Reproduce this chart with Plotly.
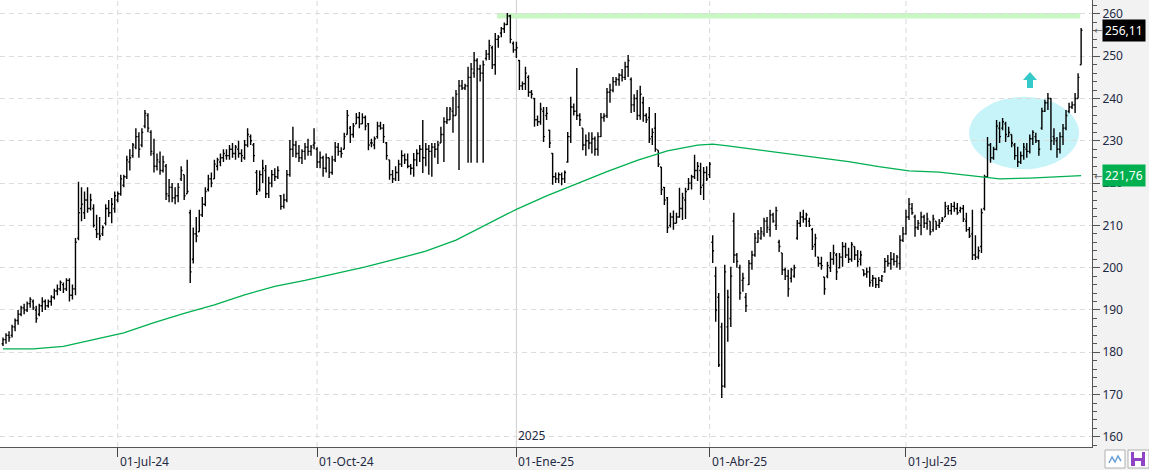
import pandas as pd
import plotly.graph_objects as go

# ---------------- data ----------------
start_date = "2024-05-08"

opens = [
    182, 183, 184, 184, 186, 187.5, 189, 190.5, 190, 191.5,
    192, 190, 189, 191, 192, 191, 192, 193, 194.5, 195,
    196, 195, 197, 193.5, 195, 207, 214, 213, 216, 214,
    214, 209, 208, 208, 210.5, 214, 213, 214, 216, 217.5,
    219.5, 221.5, 225, 226.5, 228.5, 231, 229, 233.5, 236, 232,
    227, 224, 225, 223, 224, 217, 219, 216.5, 217, 221,
    222, 217.5, 213, 202, 208, 208.5, 212.5, 215, 218.5, 221,
    221, 224, 225, 226, 226.5, 226.5, 228, 227, 228, 227,
    226, 229, 231, 229, 222.5, 218.5, 222, 223, 217.5, 220,
    222, 221.5, 217, 214.5, 216, 222, 228, 229, 227, 226,
    227.5, 228.5, 227.5, 229, 228, 225, 226, 223.5, 226, 222.5,
    225.5, 228.5, 227.5, 228, 231.5, 233, 231.5, 234, 235.5, 234,
    235.5, 234, 229.5, 229, 231, 233.5, 233, 229.5, 225.5, 222,
    221, 222.5, 224.5, 226.5, 225.5, 224, 223.5, 225.5, 227, 228,
    226, 228, 227.5, 228.5, 228, 229.5, 231.5, 234.5, 235, 237,
    236, 238, 243, 242.5, 243, 245, 246, 249, 247, 246,
    249.5, 250.5, 252, 248, 254, 255.5, 256.5, 257.5, 259.5, 253,
    251.5, 249, 243, 243.5, 245, 241.5, 240, 235, 234.5, 237,
    236, 232.5, 227, 221.5, 221, 222, 221, 225, 231, 238,
    237, 236, 233, 229, 230, 229.5, 230.5, 228, 231, 235.5,
    236, 241.5, 242, 244, 244.5, 245.5, 245, 247.5, 244.5, 238.5,
    240, 236, 239, 236, 235.5, 231, 233, 227.8, 223.8, 219,
    216.5, 210, 212, 210.5, 212, 214, 216, 218.5, 220, 221.5,
    223, 223, 219.5, 222.5, 222, 206, 198, 193, 186, 172,
    186, 188, 211, 203, 200, 197, 193, 196, 201, 203,
    206, 207, 208, 211, 209, 212.5, 210, 206, 203.5, 199.5,
    198, 197.5, 198, 207, 210.5, 212, 211.5, 211, 209, 205.5,
    202.5, 201, 197.8, 198, 200, 202, 203, 200, 202.5, 205,
    203, 202, 205, 203, 202, 199.5, 198.5, 199, 197, 197.5,
    196, 197, 199, 201.5, 201, 202, 201.5, 201, 206.5, 208,
    212, 214, 212, 209.5, 210, 212, 210.5, 211, 209, 211,
    210, 211, 212, 214, 213.5, 214.5, 214, 213.5, 214, 211,
    209, 208, 203, 202.5, 205, 214, 221.5, 229, 226, 228,
    233, 233, 234, 231, 231.5, 229, 226.5, 225, 226.5, 228,
    227.5, 230.5, 231, 230, 233, 237, 239, 240, 231, 230,
    228, 231, 233, 237, 238, 238.5, 240, 248,
]
highs = [
    183.5, 184.5, 185, 186.5, 188, 190, 191, 191.5, 192, 193,
    192.5, 191, 191.5, 193, 192.5, 192.5, 193.5, 195, 196, 197,
    196.5, 197.5, 197.5, 196, 207, 220.3, 219, 218, 219, 217.5,
    215, 212.5, 212, 210, 215, 216, 216.5, 218, 218, 222,
    222, 226.5, 228, 229.5, 233, 232, 233, 237.3, 236.5, 232.5,
    230.5, 227, 227.5, 226.5, 224.5, 221, 220, 219, 220, 224,
    222, 225.5, 213.7, 209.5, 212, 213.7, 216.7, 219, 222, 222.5,
    225.5, 226, 227, 228, 228, 229, 229.5, 229, 230, 228,
    230.2, 233, 231.5, 229.5, 223.1, 223, 225.5, 224.3, 221.5, 223.1,
    223.5, 224, 217.2, 217.5, 223.1, 230.2, 233.3, 230, 229, 228,
    229.5, 230.5, 229, 233, 228.5, 227.5, 226.5, 227, 226, 226.5,
    229.7, 229.5, 228.5, 231.9, 237.3, 233.5, 234.2, 236.6, 236.8, 236.5,
    236, 234.2, 230.5, 231, 234.5, 234.5, 234, 229.7, 225.5, 223.1,
    224, 225.5, 227.8, 227, 227, 224.5, 227.1, 228, 229, 234.9,
    229.5, 229, 229.5, 229.5, 230, 233.3, 235.6, 238, 238, 240.4,
    242, 244.4, 244.4, 243.5, 247.5, 248.4, 251, 249.5, 248, 249,
    251.5, 253.9, 252.5, 255.5, 255, 256.9, 258, 260.2, 259.8, 253.5,
    253.4, 249.1, 244, 247.5, 245.5, 242, 240.1, 236, 239, 238,
    238, 232.6, 227.1, 222.5, 222.5, 222.5, 223, 232.1, 240.4, 238.8,
    247.2, 236.5, 233, 231.5, 232, 232, 231, 232, 236.6, 236.5,
    242.5, 243.5, 245.1, 245.1, 246, 247, 248.7, 250.3, 245, 241,
    242, 243, 240.4, 236.5, 238, 233, 236.6, 227.8, 223.8, 219.1,
    216.7, 213, 213.5, 213, 218.9, 217.7, 218.9, 221.2, 222, 226.7,
    225, 224.8, 223.8, 224, 225, 207.7, 200.2, 194, 187, 200.7,
    194.8, 200.2, 213, 203.5, 200.7, 198.8, 194, 201.8, 204, 208.2,
    208.9, 209.6, 211.8, 212, 213.7, 213, 214.4, 206.6, 203.5, 200,
    199.5, 200, 200.7, 211.3, 213.2, 213.7, 213, 211.8, 209.4, 208,
    202.6, 202.6, 197.8, 201.4, 203.7, 205.4, 203.5, 203.5, 206.1, 205.9,
    204.7, 206.1, 205, 204.2, 204, 199.5, 200, 200.2, 198.3, 197.6,
    197.8, 198.3, 202.3, 203, 203.7, 203.5, 203, 207.7, 209.6, 213.7,
    216.5, 215.3, 212.5, 211.3, 213.2, 212.5, 213, 211, 212.5, 211,
    211.5, 212, 215.6, 214.8, 215.3, 215.6, 215.3, 214.4, 214.8, 213,
    209.6, 213.7, 207.7, 205, 214, 222, 230.9, 229.5, 228.6, 234.9,
    234.5, 235.4, 234.5, 233.3, 231.5, 229.5, 228.6, 227.5, 229.5, 229.5,
    231.5, 232.5, 231.9, 230.2, 237.8, 239.7, 241.3, 240.1, 233, 230.9,
    232, 234, 237.3, 239, 239.3, 241.3, 246, 256.7,
]
lows = [
    181.5, 182, 182.5, 183.5, 185, 186.5, 188.5, 189, 189.5, 190.5,
    190, 187, 188.5, 189.5, 190, 190.5, 191, 192.5, 193.5, 194.5,
    194, 194.5, 192, 192.5, 193.5, 206.5, 211, 211.5, 213, 213.5,
    209.5, 207, 206.5, 207.5, 210, 212, 210.5, 213, 215.5, 217,
    219, 221, 223, 226, 228, 226, 228.5, 233, 232, 226.5,
    222.5, 223, 222, 222.5, 216, 215.5, 215.5, 215, 215.5, 220.5,
    216, 217.5, 196.4, 201, 206, 208.5, 212, 214.5, 218, 219,
    221, 223, 224, 225, 225.5, 225.5, 226, 225.5, 226, 225,
    225.5, 228.5, 229, 225, 217.2, 218, 220, 216.5, 216.5, 219,
    220.5, 221, 213.7, 214, 215.5, 221.5, 226.2, 226, 225, 224.5,
    225.5, 226.5, 226.5, 228, 223.6, 223.5, 221.5, 222.5, 221.2, 222,
    225, 226.5, 226, 228, 231.5, 229.5, 230.7, 234, 233, 234,
    232.5, 227.8, 228.5, 228, 230.5, 232.6, 229.5, 225.5, 220.8, 220,
    220.5, 220.5, 223.8, 224.5, 223.5, 222, 221.5, 224, 225, 222.4,
    224, 222, 221.5, 226, 224.5, 229.5, 225, 234, 234.9, 231.9,
    236, 223.1, 242, 242, 224.8, 224.8, 244.9, 224.8, 244, 224.8,
    249, 249.1, 247, 245.6, 252, 254.5, 255.5, 257.4, 253.1, 250.8,
    249.6, 242, 242, 242, 240.4, 240, 233.3, 233.5, 233.8, 229.7,
    234.9, 228.3, 219.6, 220, 220, 219.5, 220, 224.8, 229.5, 236,
    234.9, 233.5, 227.8, 226.5, 228, 227, 226.5, 226.5, 230.9, 234.5,
    235.4, 239, 241.5, 243, 243, 244, 244.4, 245.1, 236.6, 236.8,
    234.9, 235, 234.5, 234.2, 229.5, 229, 227.4, 223.8, 217.2, 214.8,
    208.2, 209.5, 209, 210.5, 211.8, 211.3, 211.5, 218.4, 218.5, 221,
    220.5, 217.2, 216, 220.5, 221.2, 201.1, 187.2, 176.5, 169.2, 171.6,
    182.5, 186, 201.1, 200, 192.4, 194.3, 189.5, 195.9, 199.5, 202.6,
    205.9, 206.6, 207.3, 208.2, 207.3, 210.6, 208.9, 203.7, 198.3, 197.1,
    193.1, 196.5, 197.6, 206.6, 209.6, 210.6, 209.6, 209.6, 204.2, 202.6,
    200.2, 199.5, 193.6, 197.5, 199, 200.7, 197.1, 199.8, 200.2, 202.3,
    201.1, 201.4, 201.8, 200.2, 200.5, 198, 197.6, 195.5, 195.5, 195.2,
    195.2, 196.6, 198.8, 200.2, 199.5, 200.5, 200, 199.5, 206.1, 207.8,
    211.3, 212.5, 207.3, 208.9, 207.7, 209.4, 209, 207.7, 208.5, 208.9,
    209.4, 210.8, 212, 212.5, 212.5, 213.2, 212.5, 213, 210.8, 208.5,
    207, 201.8, 201.8, 202, 203.5, 213.5, 221.2, 224.8, 225.5, 227.8,
    229.5, 232.5, 229.7, 230.9, 228.5, 225.5, 223.8, 224.5, 225.5, 226,
    227, 229, 229.5, 226.5, 232.6, 236.8, 237.3, 227.8, 229, 226,
    227, 229, 232.5, 236.5, 237.5, 236.6, 240, 248,
]
closes = [
    183, 184, 183.5, 186, 187.5, 189, 190.5, 190, 191.5, 192.5,
    190.5, 188, 191, 192, 191, 192, 193, 194.5, 195, 196.5,
    195, 197, 193.5, 195, 206, 213, 215, 216, 214, 216,
    210, 208, 207.5, 209.5, 214, 213, 215, 217, 217.5, 221,
    221.5, 225.5, 226, 229, 231, 228, 232, 236.5, 233, 227.5,
    224, 225.5, 223, 225, 217.5, 219, 216.5, 217, 219, 223,
    217, 218, 199, 208, 207.5, 212.5, 215, 218, 221, 220,
    224.5, 225.5, 226, 227, 226.5, 228, 227, 228.5, 227, 226.5,
    229, 231.5, 230, 226.5, 218, 222, 223.5, 217.5, 220, 222,
    221.5, 223, 214.5, 216, 222, 228, 229, 227, 226, 227.5,
    228.5, 227.5, 228.5, 229.5, 225, 226, 223.5, 226, 222.5, 225.5,
    228.5, 227.5, 227, 231, 236, 231.5, 233.5, 235.5, 234, 235.5,
    233.5, 229, 229.5, 230.5, 233.5, 233, 231, 226.5, 222, 221,
    222.5, 224.5, 226.5, 225.5, 224, 223.5, 225.5, 227, 228, 226,
    228, 227.5, 228.5, 228, 229, 231.5, 234.5, 235, 237.5, 236,
    241, 243, 242.5, 243, 245, 247, 249, 247, 246, 248,
    250.5, 252.5, 248, 254, 254.5, 256.5, 257.5, 259.5, 254, 251.5,
    252, 243, 243.5, 246, 241.5, 241, 235, 234.5, 237.5, 231,
    236.5, 229.5, 221.5, 221, 222, 221, 222.5, 231, 238, 237,
    236, 235, 229, 230, 229.5, 230.5, 228, 231, 235.5, 235.8,
    241.5, 242, 244, 244.5, 245.5, 245, 247.5, 249, 238.5, 240,
    236, 241, 236, 235, 230.5, 232, 228, 224.5, 218.5, 216,
    209.5, 212, 210.5, 212, 214, 216.5, 218, 220, 221.5, 223,
    224, 219, 222.5, 221, 224.5, 204, 190, 177, 172, 199,
    193, 198, 203, 201.5, 194, 197.5, 191, 201, 203, 207,
    208, 208.5, 211, 209.5, 212.5, 211, 213.5, 205, 199.5, 198,
    195, 199.5, 200, 210.5, 212, 211.5, 212.5, 210, 205, 207,
    201, 200.5, 195, 200.5, 202, 203.5, 199, 202.5, 205, 203,
    202, 205.5, 203, 201.5, 203, 198.5, 199, 196.5, 197.5, 196,
    197, 198, 201.5, 201, 202, 201.5, 202.5, 206.5, 208, 212,
    215, 213, 209.5, 210.5, 212, 210.5, 211.5, 208.5, 211.5, 210,
    210.5, 211.5, 214.5, 213.5, 214.5, 214, 213, 214, 211.5, 209,
    207.5, 203, 202.5, 204, 213, 221.5, 229, 226, 228, 233.5,
    231, 234.5, 231.5, 232, 229.5, 226.5, 225, 226.5, 228.5, 227.5,
    230.5, 232, 230, 228, 237, 239, 240, 230, 230.5, 228,
    231, 233, 236, 238, 238.5, 240, 245, 256.11,
]

# 200-session moving average, read at sampled sessions
ma_idx = [0, 10, 20, 30, 40, 50, 60, 70, 80, 90, 100, 110, 120, 130, 140, 150,
          160, 170, 180, 190, 200, 210, 220, 230, 235, 240, 250, 260, 270, 280,
          290, 300, 310, 320, 330, 340, 350, 357]
ma_vals = [180.8, 180.8, 181.4, 183.0, 184.6, 187.0, 189.2, 191.2, 193.6, 195.6,
           197.0, 198.6, 200.2, 202.0, 203.9, 206.5, 210.2, 213.8, 217.0, 219.9,
           222.7, 225.4, 227.6, 229.0, 229.2, 228.8, 227.9, 227.0, 226.1, 225.1,
           223.9, 222.9, 222.6, 221.8, 221.0, 221.2, 221.6, 221.76]

tick_dates = ["2024-07-01", "2024-10-01", "2025-01-01", "2025-04-01", "2025-07-01"]
tick_labels = ["01-Jul-24", "01-Oct-24", "01-Ene-25", "01-Abr-25", "01-Jul-25"]
year_label = "2025"
last_label = "256,11"
ma_label = "221,76"

# ---------------- figure ----------------
n = len(closes)
cats = pd.bdate_range(start_date, periods=n).strftime("%Y-%m-%d").tolist()
tick_pos = [cats.index(d) for d in tick_dates]

W, H = 1149, 470
ML, MR, MT, MB = 0, 57, 0, 23
PW, PH = W - ML - MR, H - MT - MB
YMIN, YMAX = 157.6, 263.3
XMIN, XMAX = -0.99, 360.6

fig = go.Figure()
fig.add_trace(go.Ohlc(
    x=cats, open=opens, high=highs, low=lows, close=closes,
    increasing=dict(line=dict(color="#000000", width=1.4)),
    decreasing=dict(line=dict(color="#000000", width=1.4)),
    tickwidth=0.45, showlegend=False, hoverinfo="skip",
))
fig.add_trace(go.Scatter(
    x=[cats[i] for i in ma_idx], y=ma_vals, mode="lines",
    line=dict(color="#00b050", width=1.3), showlegend=False, hoverinfo="skip",
))

shapes = []
# vertical grid lines
for p, d in zip(tick_pos, tick_dates):
    solid = d.startswith("2025-01")
    shapes.append(dict(type="line", xref="x", yref="paper", x0=p, x1=p, y0=0, y1=1,
                       line=dict(color="#cfcfcf" if solid else "#d9d9d9", width=1,
                                 dash="solid" if solid else "5px,4px"),
                       layer="below"))
# resistance band
shapes.append(dict(type="rect", xref="x", yref="y", x0=163.6, x1=356.7, y0=258.9, y1=260.2,
                   fillcolor="#c9f7c4", line=dict(width=0), layer="below"))
# highlight ellipse
shapes.append(dict(type="circle", xref="x", yref="y", x0=319.9, x1=356.3, y0=223.3, y1=240.4,
                   fillcolor="#c7f4f9", line=dict(width=0), layer="below"))


def px(xp):
    return (xp - ML) / PW


def py(yp):
    return 1 - (yp - MT) / PH


# up arrow
arrow = [(1030, 72), (1037, 80), (1033, 80), (1033, 88), (1027, 88), (1027, 80), (1023, 80)]
path = "M " + " L ".join(f"{px(a):.5f},{py(b):.5f}" for a, b in arrow) + " Z"
shapes.append(dict(type="path", xref="paper", yref="paper", path=path,
                   fillcolor="#36c9c9", line=dict(width=0)))
# bottom-right toolbar icons
shapes.append(dict(type="rect", xref="paper", yref="paper", x0=px(1105), x1=px(1125),
                   y0=py(468), y1=py(450), fillcolor="#ffffff", line=dict(color="#b0b0b0", width=1)))
zig = [(1109, 463), (1112, 457), (1115, 462), (1118, 456), (1121, 461)]
shapes.append(dict(type="path", xref="paper", yref="paper",
                   path="M " + " L ".join(f"{px(a):.5f},{py(b):.5f}" for a, b in zig),
                   line=dict(color="#6aa0d8", width=1.5)))
shapes.append(dict(type="rect", xref="paper", yref="paper", x0=px(1128), x1=px(1149),
                   y0=py(468), y1=py(450), fillcolor="#ffffff", line=dict(color="#b0b0b0", width=1)))
shapes.append(dict(type="rect", xref="paper", yref="paper", x0=px(1131), x1=px(1145),
                   y0=py(466), y1=py(452), fillcolor="#8e44c4", line=dict(width=0)))
shapes.append(dict(type="rect", xref="paper", yref="paper", x0=px(1134), x1=px(1142),
                   y0=py(458), y1=py(452), fillcolor="#ffffff", line=dict(width=0)))
shapes.append(dict(type="rect", xref="paper", yref="paper", x0=px(1135), x1=px(1141),
                   y0=py(466), y1=py(461), fillcolor="#ffffff", line=dict(width=0)))

annotations = []
for p, lab in zip(tick_pos, tick_labels):
    annotations.append(dict(x=p, xref="x", y=0, yref="paper", text=lab, showarrow=False,
                            xanchor="left", yanchor="top", xshift=0, yshift=-4,
                            font=dict(size=12, color="#1f2a44")))
jan = tick_pos[tick_dates.index("2025-01-01")]
annotations.append(dict(x=jan, xref="x", y=0, yref="paper", text=year_label, showarrow=False,
                        xanchor="left", yanchor="bottom", xshift=0, yshift=1,
                        font=dict(size=12, color="#1f2a44")))
annotations.append(dict(x=1, xref="paper", y=closes[-1], yref="y", text=last_label,
                        showarrow=False, xanchor="left", yanchor="middle", xshift=10,
                        bgcolor="#000000", font=dict(size=12, color="#ffffff"),
                        borderpad=2))
annotations.append(dict(x=1, xref="paper", y=ma_vals[-1], yref="y", text=ma_label,
                        showarrow=False, xanchor="left", yanchor="middle", xshift=10,
                        bgcolor="#00b050", font=dict(size=12, color="#ffffff"),
                        borderpad=2))
for yv in (closes[-1], ma_vals[-1]):
    annotations.append(dict(x=1, xref="paper", y=yv, yref="y", text="←", showarrow=False,
                            xanchor="left", yanchor="middle", xshift=0,
                            font=dict(size=10, color="#666666")))

fig.update_layout(
    width=W, height=H,
    margin=dict(l=ML, r=MR, t=MT, b=MB, pad=0),
    paper_bgcolor="#f2f2f2", plot_bgcolor="#ffffff",
    font=dict(family="Noto Sans, DejaVu Sans, sans-serif", size=12, color="#1f2a44"),
    shapes=shapes, annotations=annotations,
    xaxis=dict(type="category", range=[XMIN, XMAX], rangeslider=dict(visible=False),
               tickmode="array", tickvals=[cats[p] for p in tick_pos],
               showticklabels=False, ticks="outside", ticklen=9, tickcolor="#444444",
               showgrid=False, showline=True, linecolor="#555555", linewidth=1,
               zeroline=False, fixedrange=True),
    yaxis=dict(side="right", range=[YMIN, YMAX], dtick=10, tick0=160,
               ticks="outside", ticklen=7, tickcolor="#555555",
               showgrid=True, gridcolor="#dcdcdc", griddash="5px,4px", gridwidth=1,
               showline=True, linecolor="#555555", linewidth=1, zeroline=False,
               minor=dict(dtick=2, tick0=160, ticks="outside", ticklen=4,
                          tickcolor="#555555", showgrid=False),
               tickfont=dict(size=12, color="#1f2a44"), fixedrange=True),
    showlegend=False,
)

fig.write_html("out.html")
